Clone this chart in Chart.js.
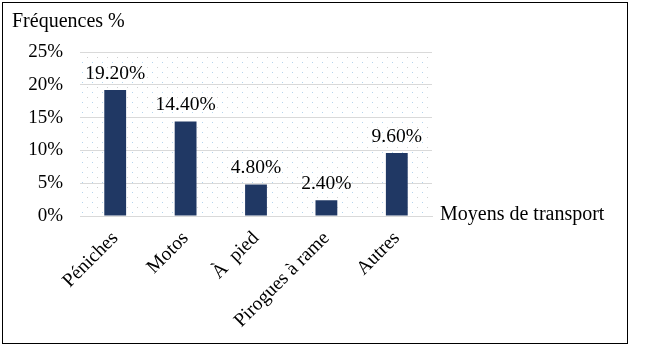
<!DOCTYPE html>
<html>
<head>
<meta charset="utf-8">
<script src="https://cdn.jsdelivr.net/npm/chart.js@4/dist/chart.umd.min.js"></script>
<style>
html,body{margin:0;padding:0;background:#fff;}
#wrap{width:652px;height:352px;position:relative;}
</style>
</head>
<body>
<div id="wrap"><canvas id="c" width="652" height="352"></canvas></div>
<script>
const categories = ["Péniches", "Motos", "À  pied", "Pirogues à rame", "Autres"];
const values = [19.2, 14.4, 4.8, 2.4, 9.6];
const valueLabels = ["19.20%", "14.40%", "4.80%", "2.40%", "9.60%"];
const yTitle = "Fréquences %";
const xTitle = "Moyens de transport";
const FONT = "'Liberation Serif', 'Times New Roman', serif";

function makePattern(ctx) {
  const p = document.createElement('canvas');
  p.width = 10; p.height = 10;
  const pc = p.getContext('2d');
  pc.fillStyle = '#b4d3ec';
  pc.fillRect(2, 2, 1, 1);
  pc.fillStyle = '#d0d0d0';
  pc.fillRect(7, 7, 1, 1);
  return ctx.createPattern(p, 'repeat');
}

const decor = {
  id: 'decor',
  beforeDraw(chart) {
    const {ctx, chartArea} = chart;
    ctx.save();
    ctx.fillStyle = '#fff';
    ctx.fillRect(0, 0, chart.width, chart.height);
    ctx.fillStyle = makePattern(ctx);
    ctx.fillRect(chartArea.left, chartArea.top, chartArea.right - chartArea.left, chartArea.bottom - chartArea.top);
    ctx.restore();
  },
  afterDatasetsDraw(chart) {
    const {ctx, chartArea} = chart;
    const meta = chart.getDatasetMeta(0);
    ctx.save();
    ctx.font = "19.5px " + FONT;
    ctx.fillStyle = '#000';
    ctx.textAlign = 'center';
    ctx.textBaseline = 'middle';
    meta.data.forEach((bar, i) => {
      ctx.fillText(valueLabels[i], bar.x, bar.y - 16.5);
    });
    ctx.textAlign = 'left';
    ctx.font = "20px " + FONT;
    ctx.fillText(xTitle, chartArea.right + 8, chartArea.bottom - 1);
    ctx.fillText(yTitle, 12, 22);
    ctx.strokeStyle = '#000';
    ctx.lineWidth = 1;
    ctx.strokeRect(2.5, 2.5, 625, 341);
    ctx.restore();
  }
};

new Chart(document.getElementById('c'), {
  type: 'bar',
  data: {
    labels: categories,
    datasets: [{
      data: values,
      backgroundColor: '#203864',
      barPercentage: 0.31,
      categoryPercentage: 1
    }]
  },
  options: {
    responsive: false,
    animation: false,
    devicePixelRatio: 1,
    layout: { padding: { left: 0, right: 220, top: 52, bottom: 0 } },
    plugins: { legend: { display: false }, tooltip: { enabled: false } },
    scales: {
      x: {
        grid: { display: false },
        border: { display: true, color: '#d9d9d9' },
        ticks: {
          color: '#000',
          font: { family: FONT, size: 19.5 },
          maxRotation: 45, minRotation: 45,
          padding: 3
        },
        afterFit(s) { s.height = 136; }
      },
      y: {
        min: 0, max: 25,
        ticks: {
          stepSize: 5,
          color: '#000',
          font: { family: FONT, size: 19 },
          padding: 17,
          callback: v => v + '%'
        },
        grid: { color: '#d9d9d9', drawTicks: false },
        border: { display: false },
        afterFit(s) { s.width = 80; }
      }
    }
  },
  plugins: [decor]
});
</script>
</body>
</html>
